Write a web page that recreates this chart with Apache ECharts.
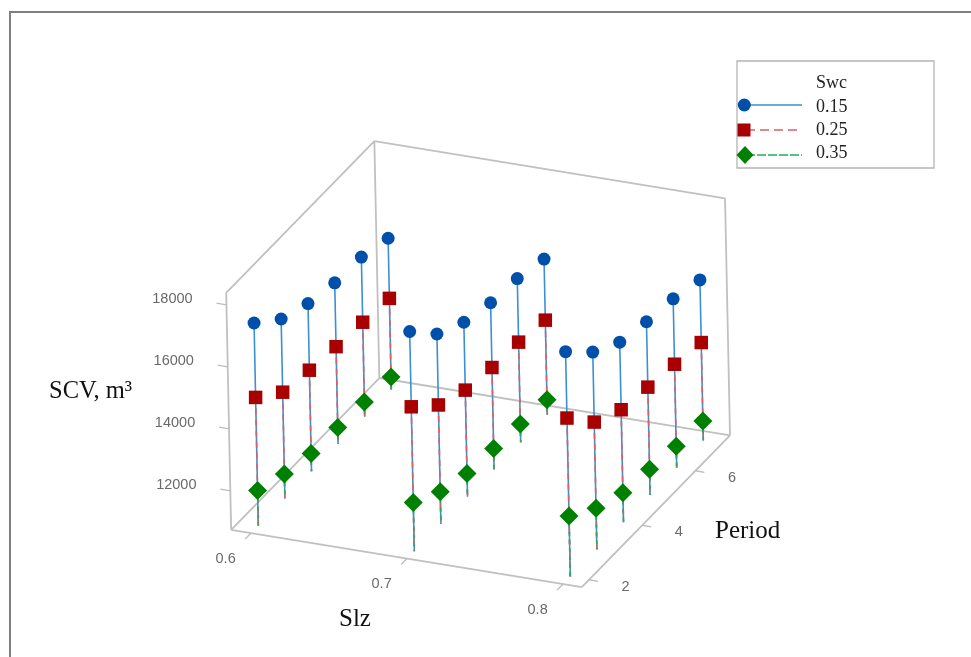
<!DOCTYPE html>
<html>
<head>
<meta charset="utf-8">
<style>html,body{margin:0;padding:0;background:#fff}#c{width:971px;height:657px}</style>
<script src="https://cdn.jsdelivr.net/npm/echarts@6/dist/echarts.min.js"></script>
</head>
<body>
<div id="c"></div>
<script>
// ---- data ----
const slzLevels = [0.6, 0.7, 0.8];
const periodLevels = [2, 3, 4, 5, 6, 7];
const swcNames = ['0.15', '0.25', '0.35'];
const scvSwc015 = [
  17280, 16530, 16150, 15940, 15890, 15620,
  17830, 16870, 16370, 16120, 16020, 15770,
  18000, 17110, 16550, 16330, 16190, 15920
];
const scvSwc025 = [
  14880, 14170, 14000, 13880, 13790, 13680,
  15400, 14580, 14180, 14030, 13970, 13800,
  15860, 14850, 14370, 14220, 14080, 13900
];
const scvSwc035 = [
  11880, 11530, 11310, 11270, 11220, 11140,
  12310, 11780, 11490, 11420, 11330, 11230,
  12700, 12070, 11690, 11570, 11430, 11370
];
const slzTicks = [0.6, 0.7, 0.8];
const periodTicks = [2, 4, 6];
const scvTicks = [12000, 14000, 16000, 18000];

// ---- 3D axis ranges and oblique projection ----
const slzRange = [0.5872, 0.812];
const periodRange = [1.73, 7.3];
const scvRange = [10742, 18387];
function project(slz, period, scv) {
  const a = (slz - 0.6) * 10, b = period - 2, c = (scv - scvRange[0]) / 1000;
  return [258.3 + 156 * a + 26.6 * b - 0.65 * c,
          525.7 + 25.5 * a - 27.25 * b - 31 * c];
}
const [xa, xb] = slzRange, [ya, yb] = periodRange, [za, zb] = scvRange;

// box edges
const boxCorners = [
  [[xa, ya, za], [xb, ya, za]], [[xb, ya, za], [xb, yb, za]],
  [[xb, yb, za], [xa, yb, za]], [[xa, yb, za], [xa, ya, za]],
  [[xa, ya, za], [xa, ya, zb]], [[xa, yb, za], [xa, yb, zb]],
  [[xb, yb, za], [xb, yb, zb]],
  [[xa, ya, zb], [xa, yb, zb]], [[xa, yb, zb], [xb, yb, zb]]
];
const gap = ['-', '-'];
const edgeData = [];
boxCorners.forEach(e => edgeData.push(project(...e[0]), project(...e[1]), gap));
// tick marks pointing outward from each axis
const tickData = [];
const labelData = [];
function addLabel(p, dx, dy, text) {
  labelData.push({ value: [p[0] + dx, p[1] + dy], text: String(text) });
}
slzTicks.forEach(v => {
  const p = project(v, ya, za);
  tickData.push(p, [p[0] - 6, p[1] + 6], gap);
  addLabel(p, -25.5, 25.5, v.toFixed(1));
});
periodTicks.forEach(v => {
  const p = project(xb, v, za);
  tickData.push(p, [p[0] + 9, p[1] + 1.6], gap);
  addLabel(p, 36.5, 7, v);
});
scvTicks.forEach(v => {
  const p = project(xa, ya, v);
  tickData.push(p, [p[0] - 10, p[1] - 1.6], gap);
  addLabel(p, -54, -6.2, v);
});

// drop lines + markers
function seriesData(values) {
  const out = [];
  let i = 0;
  slzLevels.forEach(s => periodLevels.forEach(t => {
    out.push({ value: project(s, t, values[i++]) });
    out.push({ value: project(s, t, scvRange[0]), symbol: 'none' });
    out.push({ value: gap, symbol: 'none' });
  }));
  return out;
}
const styles = [
  { values: scvSwc015, symbol: 'circle', size: 13, mark: '#0050aa', line: '#3b90d2', type: 'solid' },
  { values: scvSwc025, symbol: 'rect', size: 13.5, mark: '#a80000', line: '#dc5f68', type: [6, 5] },
  { values: scvSwc035, symbol: 'diamond', size: 19, mark: '#008000', line: '#22ad60', type: [4, 4] }
];
const dataSeries = styles.map((s, i) => ({
  name: swcNames[i], type: 'line', data: seriesData(s.values), symbol: s.symbol, symbolSize: s.size,
  showSymbol: true, showAllSymbol: true, connectNulls: false, clip: false, silent: true, z: 5 + i,
  itemStyle: { color: s.mark, opacity: 1 },
  lineStyle: { color: s.line, width: 1.6, type: s.type }
}));

const titleFont = '"Liberation Serif","Times New Roman",serif';
const tickFont = '"Liberation Sans",Arial,sans-serif';
const legendGlyphs = [];
const legendRows = [105, 130, 155];
styles.forEach((s, i) => {
  const y = legendRows[i];
  legendGlyphs.push({ type: 'line', z: 21, shape: { x1: 746, y1: y, x2: 802, y2: y },
    style: { stroke: s.line, lineWidth: 1.4, lineDash: Array.isArray(s.type) ? [9, 7 - i * 3 + 1] : null } });
});
legendGlyphs.push({ type: 'circle', z: 22, shape: { cx: 744.3, cy: 105, r: 6.5 }, style: { fill: styles[0].mark } });
legendGlyphs.push({ type: 'rect', z: 22, shape: { x: 737.5, y: 123.5, width: 13, height: 13 }, style: { fill: styles[1].mark } });
legendGlyphs.push({ type: 'polygon', z: 22, shape: { points: [[745, 146], [753.5, 155], [745, 164], [736.5, 155]] }, style: { fill: styles[2].mark } });

const option = {
  animation: false,
  backgroundColor: '#ffffff',
  grid: { left: 0, right: 0, top: 0, bottom: 0, containLabel: false },
  xAxis: { type: 'value', min: 0, max: 971, show: false },
  yAxis: { type: 'value', min: 0, max: 657, inverse: true, show: false },
  legend: {
    left: 746, top: 93, orient: 'vertical', itemWidth: 60, itemHeight: 14, itemGap: 5.3, selectedMode: false,
    data: swcNames.map(n => ({ name: n, icon: 'none' })),
    textStyle: { fontFamily: titleFont, fontSize: 18, color: '#222', padding: [0, 0, 0, 0] }, z: 23
  },
  graphic: [
    { type: 'line', z: 1, shape: { x1: 10, y1: 12, x2: 971, y2: 12 }, style: { stroke: '#808080', lineWidth: 2 } },
    { type: 'line', z: 1, shape: { x1: 10, y1: 11, x2: 10, y2: 657 }, style: { stroke: '#808080', lineWidth: 2 } },
    { type: 'rect', z: 20, shape: { x: 737, y: 61, width: 197, height: 107 }, style: { fill: '#fff', stroke: '#b4b4b4', lineWidth: 1.3 } },
    { type: 'text', z: 23, style: { x: 816, y: 74, text: 'Swc', font: '18px ' + titleFont, fill: '#222' } },
    ...legendGlyphs,
    { type: 'text', z: 23, style: { x: 49, y: 379, text: 'SCV, m³', font: '24.5px ' + titleFont, fill: '#111' } },
    { type: 'text', z: 23, style: { x: 339, y: 607, text: 'Slz', font: '25px ' + titleFont, fill: '#111' } },
    { type: 'text', z: 23, style: { x: 715, y: 519, text: 'Period', font: '25px ' + titleFont, fill: '#111' } }
  ],
  series: [
    { name: 'box', type: 'line', data: edgeData, symbol: 'none', silent: true, clip: false, z: 2,
      lineStyle: { color: '#c0c0c0', width: 1.8 }, connectNulls: false },
    { name: 'ticks', type: 'line', data: tickData, symbol: 'none', silent: true, clip: false, z: 2,
      lineStyle: { color: '#bdbdbd', width: 1.3 }, connectNulls: false },
    { name: 'tickLabels', type: 'scatter', data: labelData, symbolSize: 0, silent: true, clip: false, z: 3,
      label: { show: true, position: 'inside', formatter: p => p.data.text,
        fontFamily: tickFont, fontSize: 14.5, color: '#444' } },
    ...dataSeries
  ]
};
const chart = echarts.init(document.getElementById('c'), null, { renderer: 'canvas' });
chart.setOption(option);
</script>
</body>
</html>
